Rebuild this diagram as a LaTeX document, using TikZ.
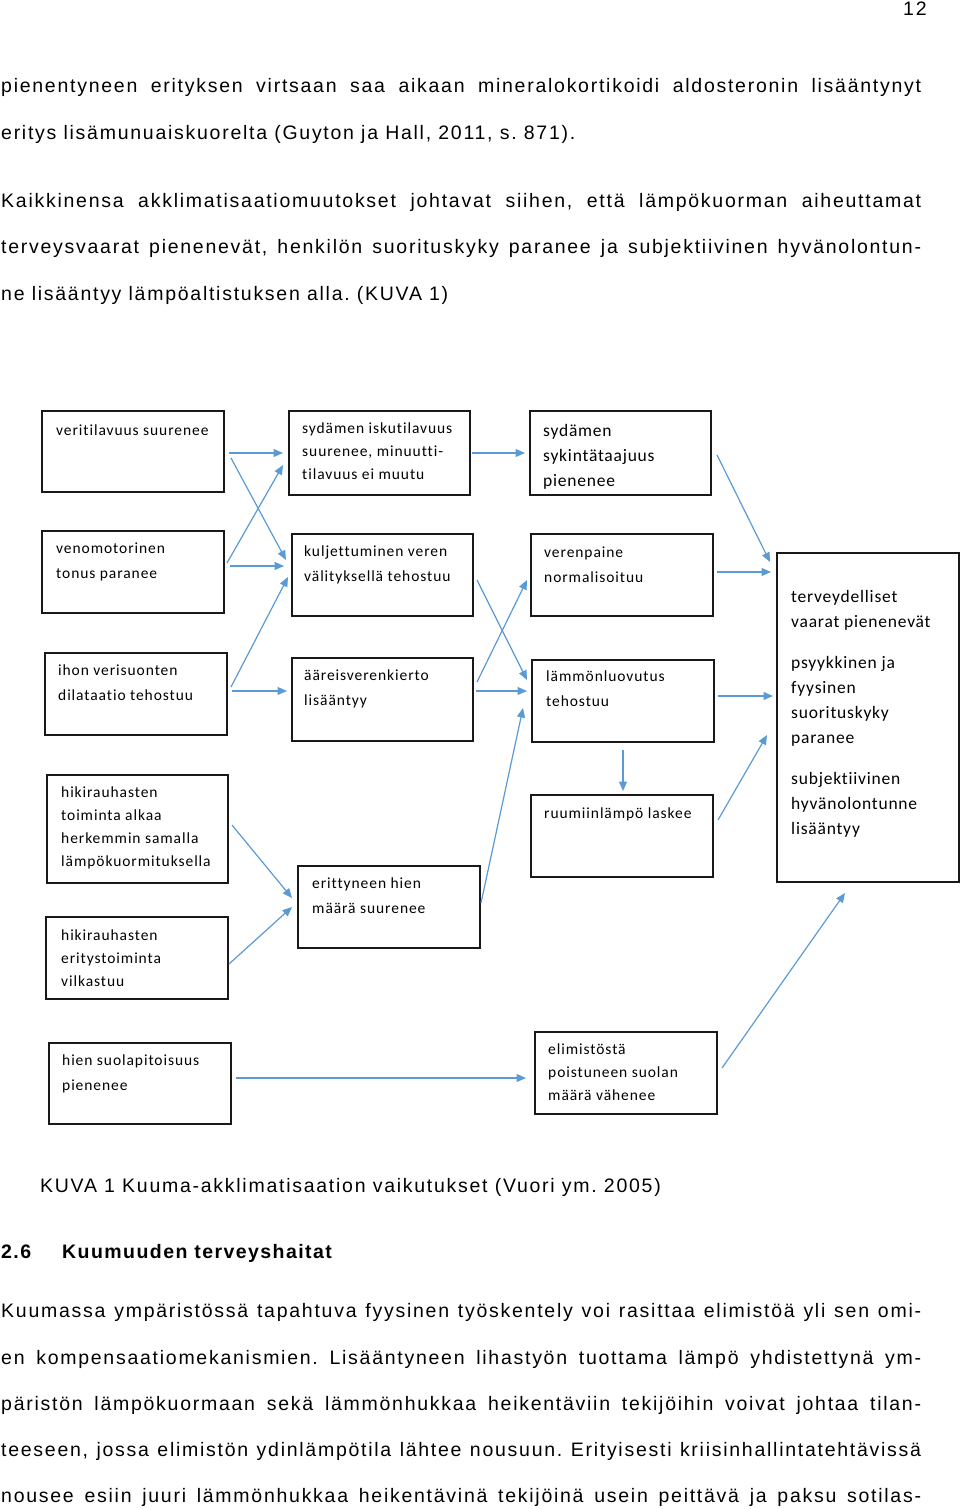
\documentclass[tikz,border=0pt]{standalone}
\usepackage{fontspec}
\setmainfont{Liberation Sans}
\newfontfamily\bodyfont[LetterSpace=8.9]{Liberation Sans}
\newfontfamily\headfont[LetterSpace=7.4]{Liberation Sans}
\newfontfamily\boxfont[LetterSpace=6,Ligatures={NoCommon}]{Carlito}
\newfontfamily\boxfontb[LetterSpace=4.5,Ligatures={NoCommon}]{Carlito}
\usetikzlibrary{arrows.meta}
\definecolor{arr}{HTML}{5B9BD5}
\newcommand\boxlines[1]{\begin{tabular}[t]{@{}l@{}}#1\end{tabular}}
\newcommand\jline[1]{\makebox[920pt][s]{#1}}
\frenchspacing
\begin{document}
\begin{tikzpicture}[x=1pt,y=-1pt,
  bx/.style={draw=black!90, line width=1.3pt, anchor=north west, inner sep=0pt, outer sep=0pt},
  bt/.style={anchor=base west, inner sep=0pt, font=\boxfont\fontsize{15.5}{23}\selectfont},
  btw/.style={anchor=base west, inner sep=0pt, font=\boxfont\fontsize{15.5}{25}\selectfont},
  btb/.style={anchor=base west, inner sep=0pt, font=\boxfontb\fontsize{17.5}{25}\selectfont},
  ptxt/.style={anchor=base west, inner sep=0pt, font=\bodyfont\fontsize{19.5}{23}\selectfont\frenchspacing},
  phead/.style={anchor=base west, inner sep=0pt, font=\headfont\bfseries\fontsize{19.5}{23}\selectfont},
  ar/.style={draw=arr, line width=1.2pt, -{Triangle[length=9.5pt,width=8pt]}}
]
\fill[white] (0,0) rectangle (960,1509);
\useasboundingbox (0,0) rectangle (960,1509);

% ---- page text ----
\node[ptxt] (pnum) at (903,16) {12};
\node[ptxt] (l1) at (1,93) {\jline{pienentyneen erityksen virtsaan saa aikaan mineralokortikoidi aldosteronin lisääntynyt}};
\node[ptxt] (l2) at (1,139.5) {eritys lisämunuaiskuorelta (Guyton ja Hall, 2011, s. 871).};
\node[ptxt] (l3) at (1,207) {\jline{Kaikkinensa akklimatisaatiomuutokset johtavat siihen, että lämpökuorman aiheuttamat}};
\node[ptxt] (l4) at (1,253.5) {\jline{terveysvaarat pienenevät, henkilön suorituskyky paranee ja subjektiivinen hyvänolontun-}};
\node[ptxt] (l5) at (1,300) {ne lisääntyy lämpöaltistuksen alla. (KUVA 1)};

\node[ptxt] (cap) at (40,1192) {KUVA 1 Kuuma-akklimatisaation vaikutukset (Vuori ym. 2005)};
\node[phead] (hnum) at (1,1258) {2.6};
\node[phead] (htxt) at (62,1258) {Kuumuuden terveyshaitat};
\node[ptxt] (m1) at (1,1317) {\jline{Kuumassa ympäristössä tapahtuva fyysinen työskentely voi rasittaa elimistöä yli sen omi-}};
\node[ptxt] (m2) at (1,1364) {\jline{en kompensaatiomekanismien. Lisääntyneen lihastyön tuottama lämpö yhdistettynä ym-}};
\node[ptxt] (m3) at (1,1410) {\jline{päristön lämpökuormaan sekä lämmönhukkaa heikentäviin tekijöihin voivat johtaa tilan-}};
\node[ptxt] (m4) at (1,1456) {\jline{teeseen, jossa elimistön ydinlämpötila lähtee nousuun. Erityisesti kriisinhallintatehtävissä}};
\node[ptxt] (m5) at (1,1502) {\jline{nousee esiin juuri lämmönhukkaa heikentävinä tekijöinä usein peittävä ja paksu sotilas-}};

% ---- boxes ----
\node[bx, minimum width=182pt, minimum height=81pt] (b1) at (42,411) {};
\node[bx, minimum width=181pt, minimum height=84pt] (b2) at (289,411) {};
\node[bx, minimum width=181pt, minimum height=84pt] (b3) at (530,411) {};
\node[bx, minimum width=182pt, minimum height=82pt] (b4) at (42,531) {};
\node[bx, minimum width=181pt, minimum height=82pt] (b5) at (292,534) {};
\node[bx, minimum width=182pt, minimum height=82pt] (b6) at (531,534) {};
\node[bx, minimum width=182pt, minimum height=82pt] (b7) at (45,653) {};
\node[bx, minimum width=181pt, minimum height=83pt] (b8) at (292,658) {};
\node[bx, minimum width=182pt, minimum height=82pt] (b9) at (532,660) {};
\node[bx, minimum width=182pt, minimum height=329pt] (b10) at (777,553) {};
\node[bx, minimum width=181pt, minimum height=108pt] (b11) at (47,775) {};
\node[bx, minimum width=182pt, minimum height=82pt] (b12) at (46,917) {};
\node[bx, minimum width=182pt, minimum height=81pt] (b13) at (49,1043) {};
\node[bx, minimum width=182pt, minimum height=82pt] (b14) at (298,866) {};
\node[bx, minimum width=182pt, minimum height=82pt] (b15) at (531,795) {};
\node[bx, minimum width=182pt, minimum height=82pt] (b16) at (535,1032) {};

% ---- box texts ----
\node[bt] (t1) at (56,435) {veritilavuus suurenee};
\node[bt] (t2) at (302,433) {\boxlines{sydämen iskutilavuus\\ suurenee, minuutti-\\ tilavuus ei muutu}};
\node[btb] (t3) at (543,436) {\boxlines{sydämen\\ sykintätaajuus\\ pienenee}};
\node[btw] (t4) at (56,553) {\boxlines{venomotorinen\\ tonus paranee}};
\node[btw] (t5) at (304,556) {\boxlines{kuljettuminen veren\\ välityksellä tehostuu}};
\node[btw] (t6) at (544,557) {\boxlines{verenpaine\\ normalisoituu}};
\node[btw] (t7) at (58,675) {\boxlines{ihon verisuonten\\ dilataatio tehostuu}};
\node[btw] (t8) at (304,680) {\boxlines{ääreisverenkierto\\ lisääntyy}};
\node[btw] (t9) at (546,681) {\boxlines{lämmönluovutus\\ tehostuu}};
\node[btb] (t10) at (791,602) {\boxlines{terveydelliset\\ vaarat pienenevät\\[16pt] psyykkinen ja\\ fyysinen\\ suorituskyky\\ paranee\\[16pt] subjektiivinen\\ hyvänolontunne\\ lisääntyy}};
\node[font=\boxfont\fontsize{15.5}{23.3}\selectfont, anchor=base west, inner sep=0pt] (t11) at (61,797) {\boxlines{hikirauhasten\\ toiminta alkaa\\ herkemmin samalla\\ lämpökuormituksella}};
\node[bt] (t12) at (61,940) {\boxlines{hikirauhasten\\ eritystoiminta\\ vilkastuu}};
\node[btw] (t13) at (62,1065) {\boxlines{hien suolapitoisuus\\ pienenee}};
\node[btw] (t14) at (312,888) {\boxlines{erittyneen hien\\ määrä suurenee}};
\node[bt] (t15) at (544,818) {ruumiinlämpö laskee};
\node[bt] (t16) at (548,1054) {\boxlines{elimistöstä\\ poistuneen suolan\\ määrä vähenee}};

% ---- arrows ----
\draw[ar] ([shift={(5,42)}]b1.north east) -- ([shift={(-6,42)}]b2.north west);
\draw[ar] ([shift={(7,47)}]b1.north east) -- ([shift={(-6,26)}]b5.north west);
\draw[ar] ([shift={(3,32)}]b4.north east) -- ([shift={(-6,54)}]b2.north west);
\draw[ar] ([shift={(6,35)}]b4.north east) -- ([shift={(-8,32)}]b5.north west);
\draw[ar] ([shift={(4,34)}]b7.north east) -- ([shift={(-4,43)}]b5.north west);
\draw[ar] ([shift={(5,38)}]b7.north east) -- ([shift={(-5,33)}]b8.north west);
\draw[ar] ([shift={(2,42)}]b2.north east) -- ([shift={(-5,42)}]b3.north west);
\draw[ar] ([shift={(4,46)}]b5.north east) -- ([shift={(-5,20)}]b9.north west);
\draw[ar] ([shift={(4,24)}]b8.north east) -- ([shift={(-4,46)}]b6.north west);
\draw[ar] ([shift={(3,33)}]b8.north east) -- ([shift={(-5,31)}]b9.north west);
\draw[ar] ([shift={(6,44)}]b3.north east) -- ([shift={(-7,9)}]b10.north west);
\draw[ar] ([shift={(4,38)}]b6.north east) -- ([shift={(-6,19)}]b10.north west);
\draw[ar] ([shift={(4,36)}]b9.north east) -- ([shift={(-4,143)}]b10.north west);
\draw[ar] ([shift={(5,25)}]b15.north east) -- ([shift={(-10,182)}]b10.north west);
\draw[ar] ([shift={(0,8)}]b9.south) -- ([shift={(1,-4)}]b15.north);
\draw[ar] ([shift={(1,37)}]b14.north east) -- ([shift={(-9,48)}]b9.north west);
\draw[ar] ([shift={(4,50)}]b11.north east) -- ([shift={(-6,32)}]b14.north west);
\draw[ar] ([shift={(1,47)}]b12.north east) -- ([shift={(-6,41)}]b14.north west);
\draw[ar] ([shift={(5,35)}]b13.north east) -- ([shift={(-9,46)}]b16.north west);
\draw[ar] ([shift={(5,36)}]b16.north east) -- ([shift={(68,11)}]b10.south west);
\end{tikzpicture}
\end{document}
